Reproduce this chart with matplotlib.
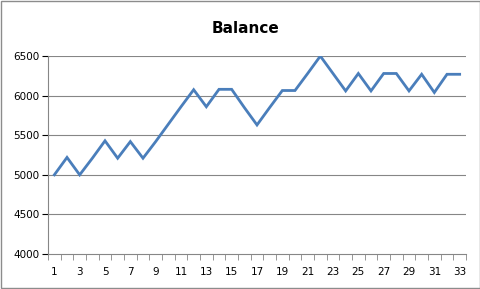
import matplotlib
matplotlib.use("Agg")
import matplotlib.pyplot as plt
from matplotlib.patches import Rectangle

# data
periods = list(range(1, 34))
balance = [5000, 5220, 5000, 5210, 5430, 5210, 5420, 5210, 5420, 5640,
           5860, 6075, 5860, 6080, 6080, 5850, 5630, 5850, 6065, 6065,
           6280, 6500, 6280, 6060, 6280, 6060, 6280, 6280, 6060, 6270,
           6040, 6270, 6270]
y_ticks = [4000, 4500, 5000, 5500, 6000, 6500]

plt.rcParams['font.family'] = ['DejaVu Sans']

fig = plt.figure(figsize=(4.81, 2.89), dpi=100)
ax = fig.add_axes([0.0998, 0.121, 0.869, 0.685])

grid_col = "#868686"
ax.plot(periods, balance, color="#4a7ebb", lw=2.0, solid_joinstyle="miter", zorder=3)

ax.set_xlim(0.5, 33.5)
ax.set_ylim(4000, 6500)
ax.set_yticks(y_ticks)
for y in y_ticks[1:]:
    ax.axhline(y, color=grid_col, lw=0.8, zorder=1)

# category axis: ticks between categories, labels on odd ones
ax.set_xticks([i + 0.5 for i in range(0, 34)], minor=True)
ax.set_xticks(periods[::2])
ax.set_xticklabels([str(p) for p in periods[::2]])
ax.tick_params(axis="x", which="major", length=0, pad=9)
ax.tick_params(axis="x", which="minor", length=4, color=grid_col, direction="out")
ax.tick_params(axis="y", length=4, color=grid_col, direction="out", pad=2)
ax.tick_params(labelsize=7.5, colors="black")

for s in ["top", "right"]:
    ax.spines[s].set_visible(False)
for s in ["left", "bottom"]:
    ax.spines[s].set_color(grid_col)
    ax.spines[s].set_linewidth(0.8)

fig.text(0.51, 0.9, "Balance", ha="center", va="center", fontsize=11, fontweight="bold")

fig.patches.append(Rectangle((0.002, 0.003), 0.995, 0.993, transform=fig.transFigure,
                             fill=False, edgecolor="#8c8c8c", lw=1.0))

fig.savefig("out.png", dpi=100)
